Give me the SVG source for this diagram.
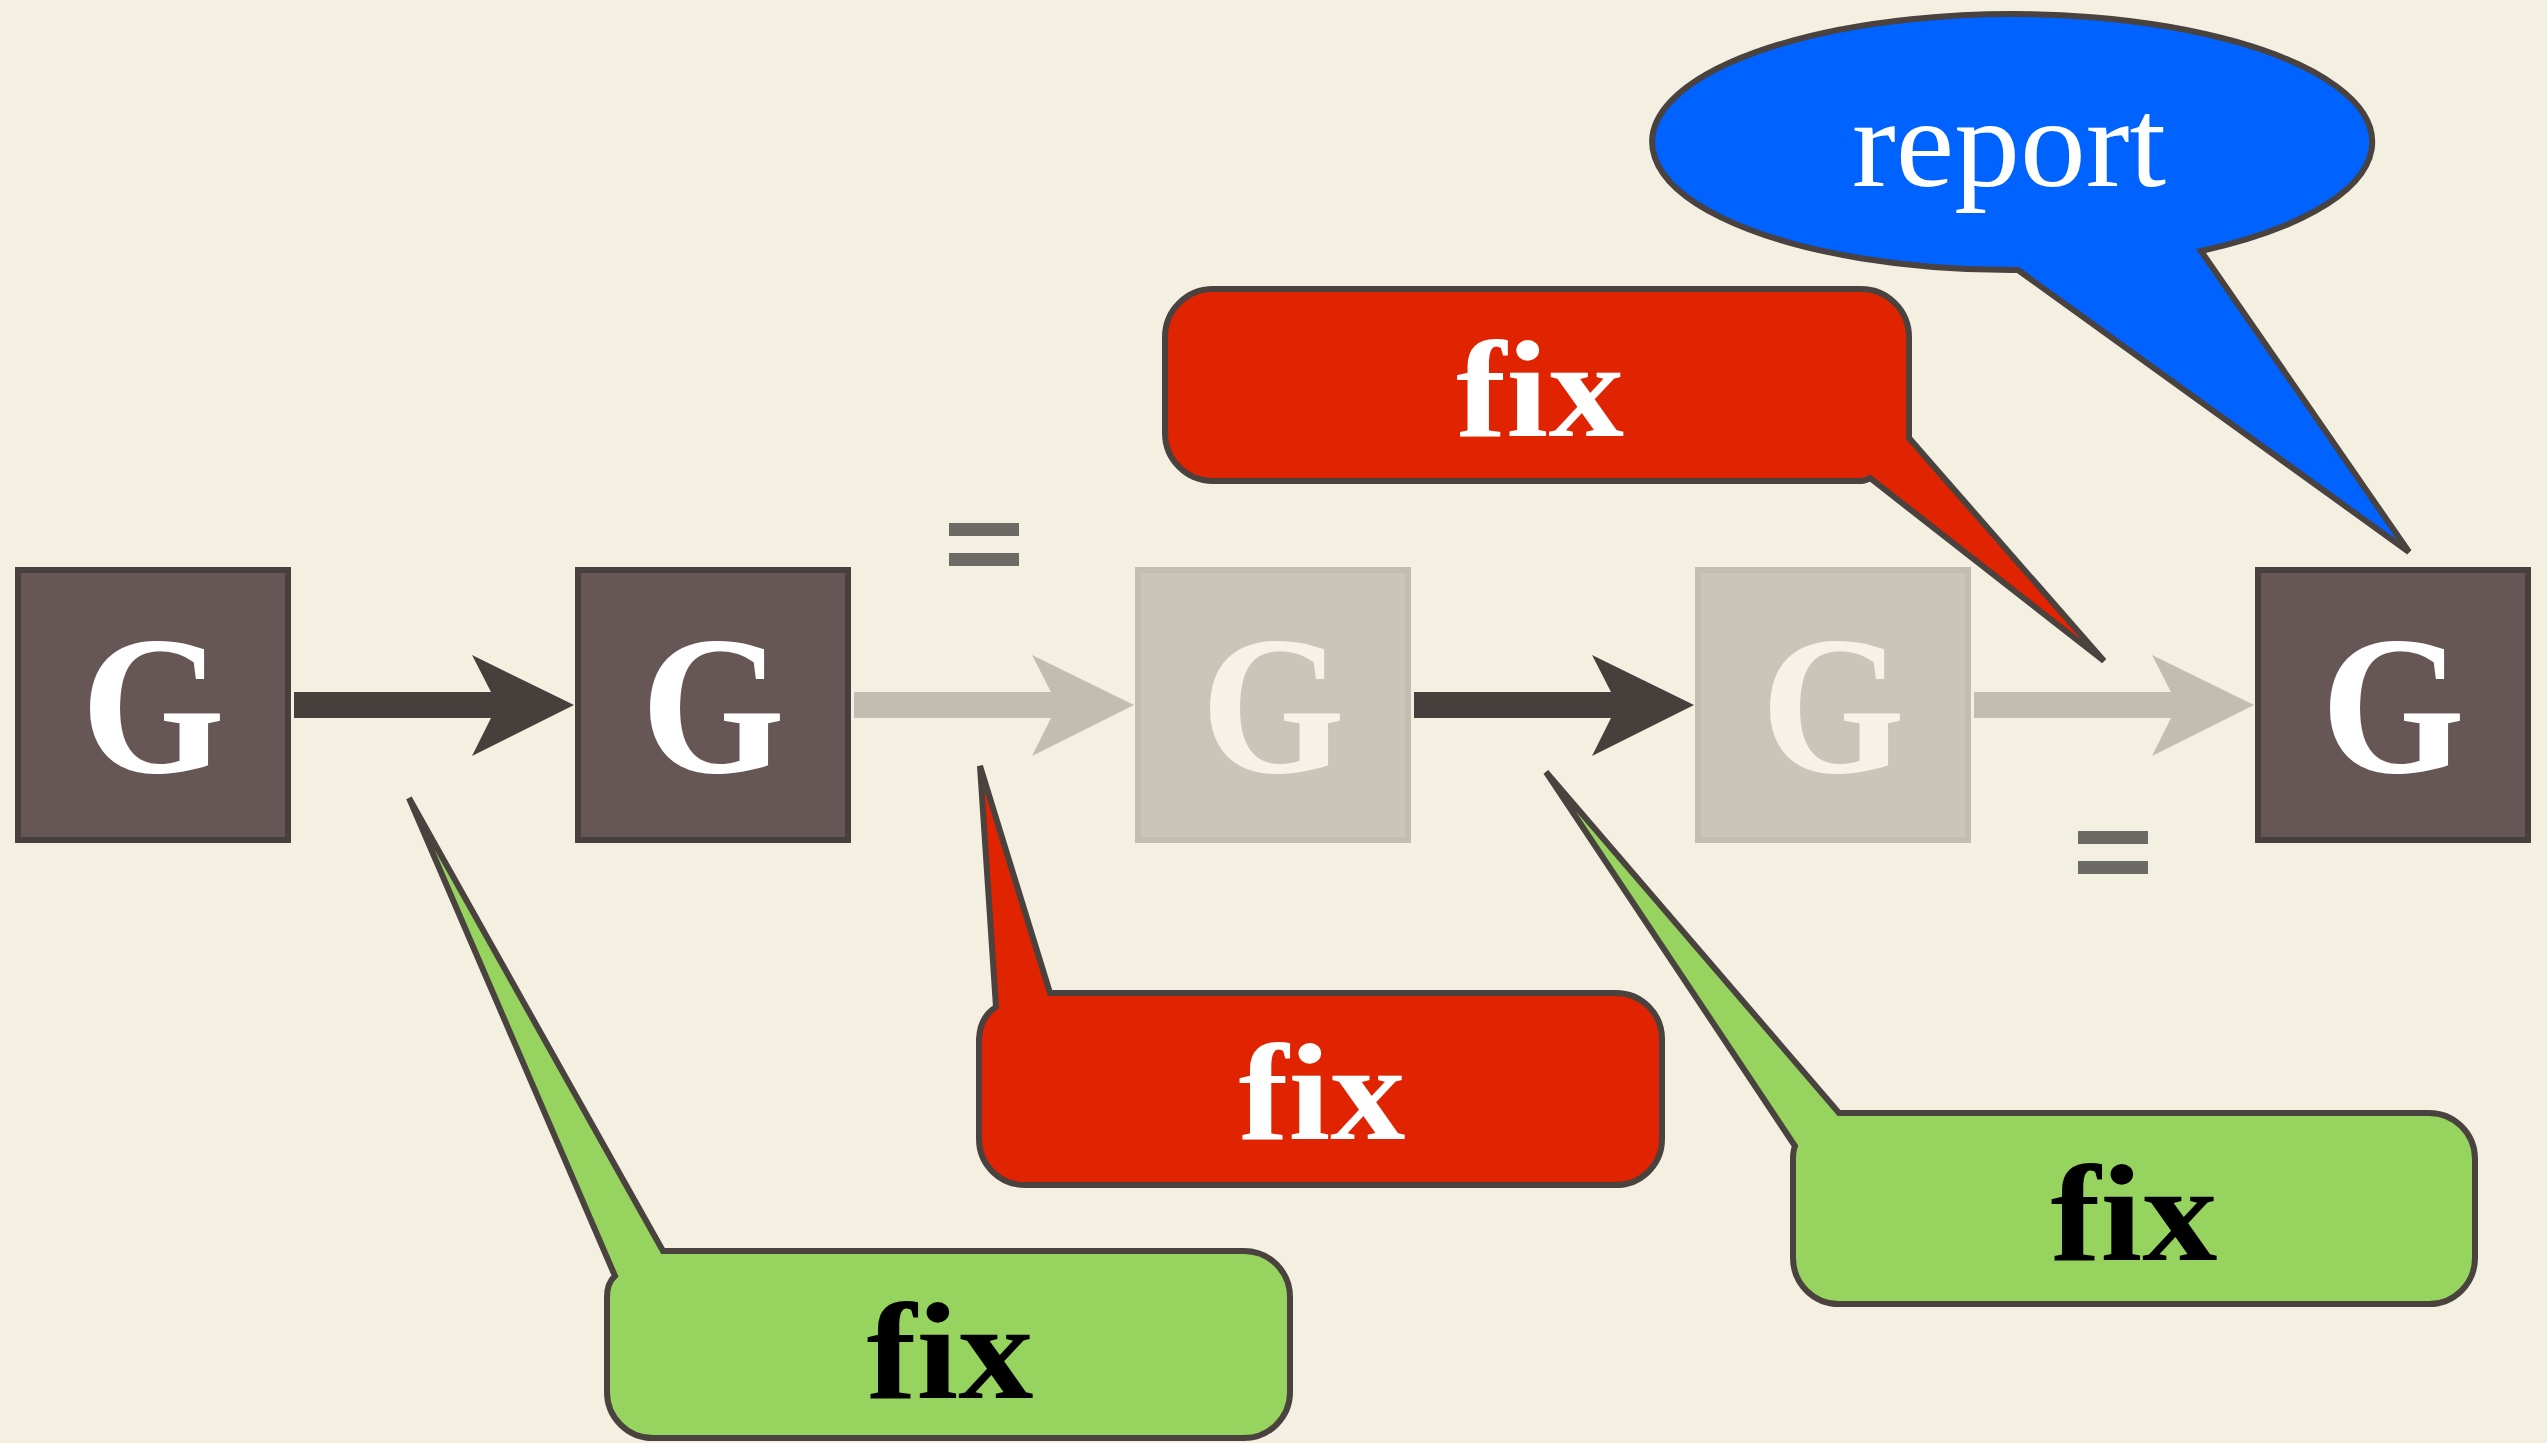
<svg xmlns="http://www.w3.org/2000/svg" width="2547" height="1443" viewBox="0 0 2547 1443">
<style>
.dark{fill:#665655;stroke:#48403e;stroke-width:6}
.light{fill:#cbc4b8;stroke:#c3bcb0;stroke-width:6}
.gd{font-family:"Liberation Serif",serif;font-weight:bold;font-size:198px;fill:#ffffff;text-anchor:middle}
.gl{font-family:"Liberation Serif",serif;font-weight:bold;font-size:198px;fill:#f6f2e8;text-anchor:middle}
.ad{fill:#463f3c}
.al{fill:#c1bdb1}
.call{stroke:#4a423f;stroke-width:6;stroke-linejoin:miter}
.fix{font-family:"Liberation Serif",serif;font-weight:bold;font-size:138px;text-anchor:middle}
</style>
<rect x="0" y="0" width="2547" height="1443" fill="#f3efe1"/>

<g id="connectors">
<path class="ad" d="M294,692 L491,692 L472,655 L574,705 L472,756 L491,718 L294,718 Z"/>
<path class="al" d="M854,692 L1051,692 L1032,655 L1134,705 L1032,756 L1051,718 L854,718 Z"/>
<path class="ad" d="M1414,692 L1611,692 L1592,655 L1694,705 L1592,756 L1611,718 L1414,718 Z"/>
<path class="al" d="M1974,692 L2171,692 L2152,655 L2254,705 L2152,756 L2171,718 L1974,718 Z"/>
</g>

<g id="eq1"><rect x="949" y="523" width="70" height="13" fill="#6b6a64"/><rect x="949" y="553" width="70" height="13" fill="#6b6a64"/></g>
<g id="eq2"><rect x="2078" y="831" width="70" height="13" fill="#6b6a64"/><rect x="2078" y="861" width="70" height="13" fill="#6b6a64"/></g>

<g id="node1"><rect class="dark" x="18" y="570" width="270" height="270"/><text class="gd" x="153" y="772" textLength="144" lengthAdjust="spacingAndGlyphs">G</text></g>
<g id="node2"><rect class="dark" x="578" y="570" width="270" height="270"/><text class="gd" x="713" y="772" textLength="144" lengthAdjust="spacingAndGlyphs">G</text></g>
<g id="node3"><rect class="light" x="1138" y="570" width="270" height="270"/><text class="gl" x="1273" y="772" textLength="144" lengthAdjust="spacingAndGlyphs">G</text></g>
<g id="node4"><rect class="light" x="1698" y="570" width="270" height="270"/><text class="gl" x="1833" y="772" textLength="144" lengthAdjust="spacingAndGlyphs">G</text></g>
<g id="node5"><rect class="dark" x="2258" y="570" width="270" height="270"/><text class="gd" x="2393" y="772" textLength="144" lengthAdjust="spacingAndGlyphs">G</text></g>

<g id="callout-green1">
<path class="call" fill="#97d45f" d="M663,1251 L1244,1251 A46,46 0 0 1 1290,1297 L1290,1392 A46,46 0 0 1 1244,1438 L653,1438 A46,46 0 0 1 607,1392 L607,1297 Q607,1283 615,1276 L409,798 Z"/>
<text class="fix" x="950" y="1398" fill="#000000" textLength="167" lengthAdjust="spacingAndGlyphs">fix</text>
</g>

<g id="callout-red1">
<path class="call" fill="#e02300" d="M1050,993 L1616,993 A46,46 0 0 1 1662,1039 L1662,1139 A46,46 0 0 1 1616,1185 L1025,1185 A46,46 0 0 1 979,1139 L979,1039 Q980,1017 996,1007 L980,766 Z"/>
<text class="fix" x="1322" y="1139" fill="#ffffff" textLength="167" lengthAdjust="spacingAndGlyphs">fix</text>
</g>

<g id="callout-green2">
<path class="call" fill="#97d45f" d="M1839,1113 L2429,1113 A46,46 0 0 1 2475,1159 L2475,1258 A46,46 0 0 1 2429,1304 L1839,1304 A46,46 0 0 1 1793,1258 L1793,1159 Q1793,1151 1795,1146 L1546,772 Z"/>
<text class="fix" x="2134" y="1260" fill="#000000" textLength="167" lengthAdjust="spacingAndGlyphs">fix</text>
</g>

<g id="callout-red2">
<path class="call" fill="#e02300" d="M1213,289 L1861,289 A48,48 0 0 1 1909,337 L1909,438 L2104,661 L1870,478 Q1866,481 1858,481 L1213,481 A48,48 0 0 1 1165,433 L1165,337 A48,48 0 0 1 1213,289 Z"/>
<text class="fix" x="1540" y="436" fill="#ffffff" textLength="168" lengthAdjust="spacingAndGlyphs">fix</text>
</g>

<g id="callout-report">
<path class="call" fill="#0062ff" d="M2201,251 A360,128 0 1 0 2018,270 L2409,552 Z"/>
<text x="2009" y="186" font-family="Liberation Serif, serif" font-size="128" fill="#ffffff" text-anchor="middle" textLength="314" lengthAdjust="spacingAndGlyphs">report</text>
</g>
</svg>
